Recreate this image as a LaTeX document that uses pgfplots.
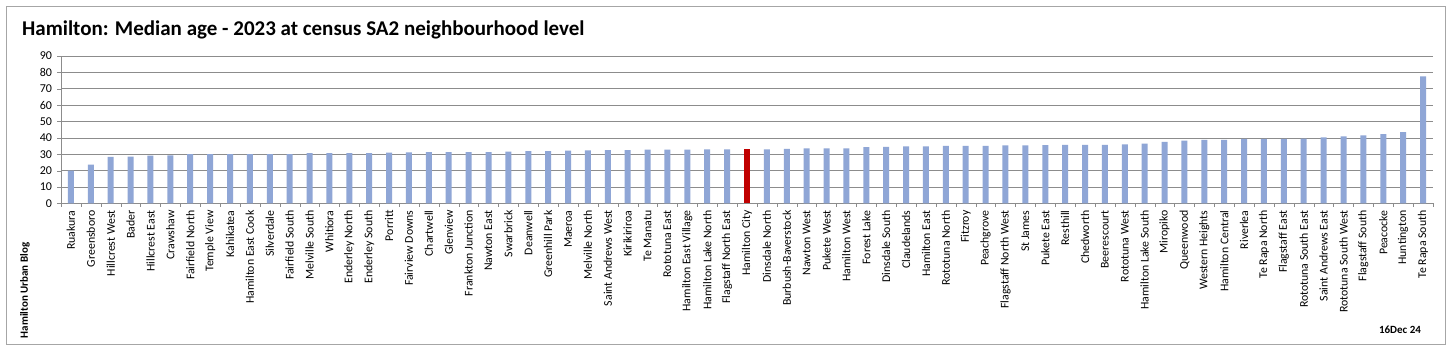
\documentclass[border=0pt]{standalone}
\usepackage{pgfplots}
\pgfplotsset{compat=1.18}
\usepackage{pgfplotstable}
\usepackage{fontspec}
\setmainfont{Carlito}
\definecolor{barblue}{RGB}{143,166,214}
\definecolor{barred}{RGB}{192,0,0}
\definecolor{gridgray}{RGB}{140,140,140}
\definecolor{framegray}{RGB}{166,166,166}
\pgfplotstableread{
x y
1 20.1
2 23.7
3 28.4
4 28.6
5 29.2
6 29.4
7 30.2
8 30.2
9 30.2
10 30.2
11 30.2
12 30.2
13 30.8
14 30.8
15 30.8
16 30.8
17 31.0
18 31.2
19 31.4
20 31.4
21 31.4
22 31.3
23 31.6
24 32.0
25 32.0
26 32.2
27 32.4
28 32.6
29 32.6
30 32.8
31 32.8
32 32.8
33 33.0
34 33.0
36 33.0
37 33.4
38 33.6
39 33.6
40 33.6
41 34.4
42 34.6
43 34.9
44 34.9
45 35.1
46 35.1
47 35.1
48 35.4
49 35.4
50 35.6
51 35.8
52 35.8
53 35.8
54 36.0
55 36.6
56 37.6
57 38.4
58 38.8
59 38.8
60 39.4
61 39.4
62 39.4
63 39.6
64 40.4
65 41.0
66 41.5
67 42.3
68 43.5
69 77.6
}\agedata
\pgfplotstableread{
x y
35 33.2
}\citydata
\begin{document}
\begin{tikzpicture}[x=1pt,y=1pt]
\path[use as bounding box, fill=white] (0,0) rectangle (1456,352);
\draw[framegray, line width=1pt] (6,7) rectangle (1445,345);
\node[anchor=base west, font=\fontsize{21}{23}\selectfont\bfseries, inner sep=0] at (22,316) {Hamilton: Median age - 2023 at census SA2 neighbourhood level};
\node[rotate=90, font=\fontsize{11}{12}\selectfont\bfseries] at (25,61.5) {Hamilton Urban Blog};
\node[font=\fontsize{11}{12}\selectfont\bfseries] at (1400,22) {16Dec 24};
\begin{axis}[
  at={(61pt,148.5pt)}, anchor=south west,
  scale only axis, width=1372pt, height=147.5pt,
  xmin=0.5, xmax=69.5, ymin=0, ymax=90,
  ytick={0,10,...,90},
  xtick={1,...,69},
  minor xtick={0.5,1.5,...,69.5},
  major tick length=3.5pt, minor tick length=3.5pt,
  tick align=outside,
  major x tick style={draw=none},
  minor x tick style={gridgray},
  y tick style={gridgray},
  axis x line*=bottom, axis y line*=left,
  axis line style={gridgray,-},
  ymajorgrids, grid style={gridgray, line width=0.8pt},
  /pgf/number format/assume math mode=true,
  yticklabel style={font=\fontsize{12}{13}\selectfont, xshift=-2pt},
  xticklabel style={font=\fontsize{11.8}{12}\selectfont, rotate=90, anchor=east},
  xticklabels={Ruakura,Greensboro,Hillcrest West,Bader,Hillcrest East,Crawshaw,Fairfield North,Temple View,Kahikatea,Hamilton East Cook,Silverdale,Fairfield South,Melville South,Whitiora,Enderley North,Enderley South,Porritt,Fairview Downs,Chartwell,Glenview,Frankton Junction,Nawton East,Swarbrick,Deanwell,Greenhill Park,Maeroa,Melville North,Saint Andrews West,Kirikiriroa,Te Manatu,Rototuna East,Hamilton East Village,Hamilton Lake North,Flagstaff North East,Hamilton City,Dinsdale North,Burbush-Baverstock,Nawton West,Pukete West,Hamilton West,Forest Lake,Dinsdale South,Claudelands,Hamilton East,Rototuna North,Fitzroy,Peachgrove,Flagstaff North West,St James,Pukete East,Resthill,Chedworth,Beerescourt,Rototuna West,Hamilton Lake South,Miropiko,Queenwood,Western Heights,Hamilton Central,Riverlea,Te Rapa North,Flagstaff East,Rototuna South East,Saint Andrews East,Rototuna South West,Flagstaff South,Peacocke,Huntington,Te Rapa South},
  ybar, bar width=6pt, bar shift=0pt,
]
\addplot[fill=barblue, draw=none] table[x=x, y=y] {\agedata};
\addplot[fill=barred, draw=none] table[x=x, y=y] {\citydata};
\end{axis}
\end{tikzpicture}
\end{document}
